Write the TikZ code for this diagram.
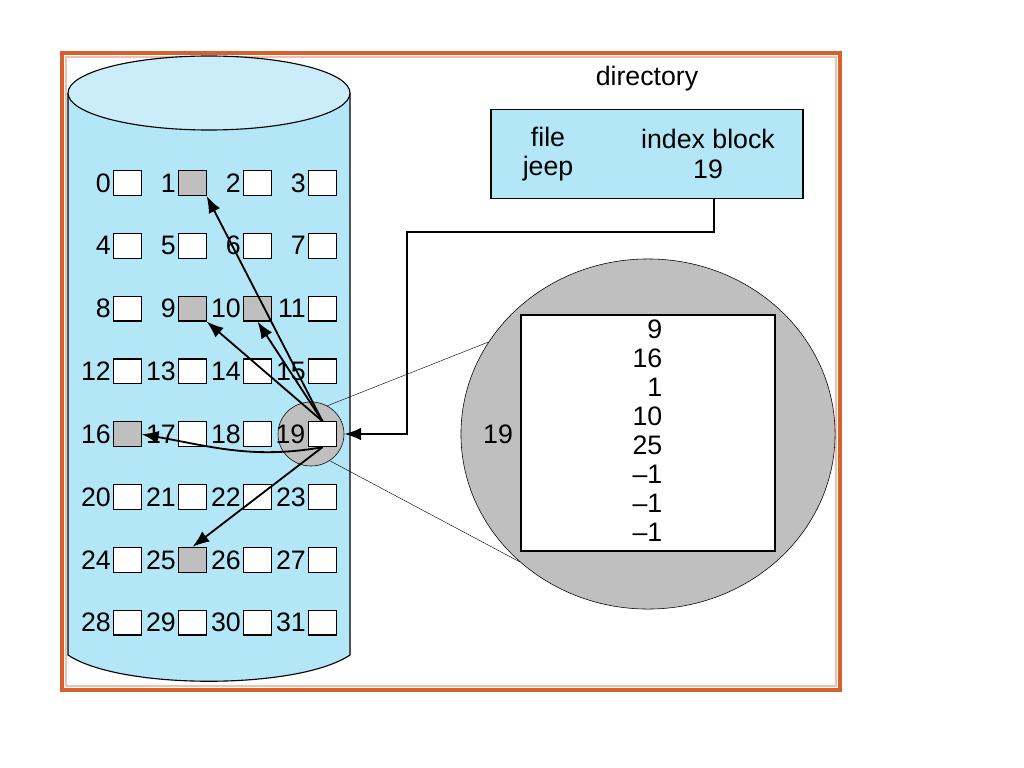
\documentclass[tikz,border=0pt]{standalone}
\usepackage{fontspec}
\setmainfont{Liberation Sans}
\usetikzlibrary{positioning,arrows.meta,calc,shapes}
\definecolor{disk}{HTML}{B3E6F7}
\definecolor{frame}{HTML}{D8602E}
\tikzset{
    x=0.025cm,
    y=-0.025cm,
    >={Latex[length=12pt,width=9pt]},
    block/.style = {
        draw,
        shape=rectangle,
        minimum height=0.62cm,
        minimum width=0.68cm,
        inner sep=0pt,
        line width=0.8pt,
        fill=white
    },
    used/.style = {
        block,
        fill=black!25
    },
    num/.style = {
        font=\fontsize{19}{21}\selectfont,
        inner sep=1pt
    },
    ptr/.style = {
        draw,
        ->,
        line width=1.3pt
    }
}

\begin{document}
\begin{tikzpicture}
            \useasboundingbox (0,0) rectangle (1024,768);
            \draw[frame, line width=2.5pt] (62,53) rectangle (840,690);
            \draw[frame!40, line width=0.8pt] (66,57) rectangle (836,686);

            % disk
            \draw[fill=disk, line width=0.8pt] (68,93) -- (68,655) .. controls (120,690) and (298,690) .. (350,655) -- (350,93);
            \draw[fill=disk!70, line width=0.8pt] (209,93) ellipse (141 and 37);

            % blocks
            \foreach \r in {0,...,7} {
                \foreach \c in {0,...,3} {
                    \pgfmathtruncatemacro{\n}{4*\r+\c}
                    \pgfmathsetmacro{\bx}{127.5+65*\c}
                    \pgfmathsetmacro{\by}{183+62.8*\r}
                    \node[num, anchor=east] (l\n) at (\bx-15,\by) {\n};
                    \node[block] (b\n) at (\bx,\by) {};
                }
            }
            \foreach \n in {1,9,10,16,25} {
                \node[used] at (b\n) {};
            }

            % zoom
            \node[draw, fill=black!25, ellipse, minimum width=1.65cm, minimum height=1.6cm] (zoom) at (311,434) {};
            \node[block] (idx) at (b19) {};
            \node[num, anchor=east] at ([xshift=-1pt]idx.west) {19};
            \node[draw, fill=black!25, ellipse, minimum width=9.35cm, minimum height=8.75cm] (big) at (648,434) {};
            \draw[line width=0.3pt] (zoom.60) -- (big.150);
            \draw[line width=0.3pt] (zoom.-55) -- (big.-135);
            \node[draw, fill=white, line width=1pt, minimum width=6.35cm, minimum height=5.9cm] (table) at (648,433) {};
            \node[num, align=right, anchor=north east, font=\fontsize{19}{20.6}\selectfont] (vals) at (664,318) {9\\16\\1\\10\\25\\\textendash1\\\textendash1\\\textendash1};
            \node[num] (ilabel) at (498,434) {19};

            % directory
            \node[num] (dirlabel) at (647,79) {directory};
            \node[draw, fill=disk, line width=1pt, minimum width=7.8cm, minimum height=2.22cm] (dir) at (647,154) {};
            \node[num, align=center] (file) at (548,154) {file\\jeep};
            \node[num, align=center] (iblock) at (708,154) {index block\\19};

            \path[ptr] (714,199) |- (407,232) |- (zoom.east);
            \path[ptr] (idx.north) -- (b1.south east);
            \path[ptr] (idx.north) -- (b9.south east);
            \path[ptr] (idx.north) -- (b10.south);
            \path[ptr] (idx.south) to[out=190, in=-10] (b16.east);
            \path[ptr] (idx.south) -- (b25.north);
        \end{tikzpicture}
\end{document}
